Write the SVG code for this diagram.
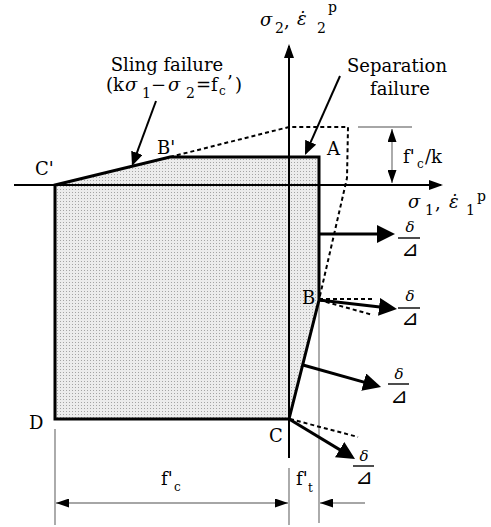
<svg xmlns="http://www.w3.org/2000/svg" width="491" height="527" viewBox="0 0 491 527">
<style>
.t{font-family:"DejaVu Serif","Liberation Serif","Noto Sans CJK KR",serif;font-size:18px;fill:#000}
.s{font-size:14px}
.ss{font-size:12px}
.g{font-style:italic}
.fr{font-family:"DejaVu Serif","DejaVu Sans","Noto Sans CJK KR",serif;font-size:15px;text-anchor:middle}
.tri{font-family:"DejaVu Sans","Noto Sans CJK KR",sans-serif;font-size:21px;text-anchor:middle}
.ol{fill:none;stroke:#000;stroke-width:3;stroke-linejoin:miter}
.ax{stroke:#000;stroke-width:2;fill:none}
.dash{stroke:#000;stroke-width:2;fill:none;stroke-dasharray:4 3}
.thin{stroke:#888;stroke-width:1.4;fill:none}
.big{stroke:#000;stroke-width:3;fill:none}
.ld{stroke:#000;stroke-width:2;fill:none}
.fl{stroke:#000;stroke-width:1.4}
</style>
<defs>
<pattern id="dots" width="3" height="3" patternUnits="userSpaceOnUse">
<rect width="3" height="3" fill="#ececec"/>
<rect width="1" height="1" fill="#a4a4a4"/>
</pattern>
<marker id="mbig" markerUnits="userSpaceOnUse" viewBox="0 0 18 18" refX="14" refY="9" markerWidth="18" markerHeight="18" orient="auto"><path d="M0,0 L18,9 L0,18 z" fill="#000"/></marker>
<marker id="max" markerUnits="userSpaceOnUse" viewBox="0 0 14 10" refX="12" refY="5" markerWidth="14" markerHeight="10" orient="auto"><path d="M0,0 L14,5 L0,10 z" fill="#000"/></marker>
<marker id="mld" markerUnits="userSpaceOnUse" viewBox="0 0 14 12" refX="12" refY="6" markerWidth="14" markerHeight="12" orient="auto"><path d="M0,0 L14,6 L0,12 z" fill="#000"/></marker>
<marker id="mdim" markerUnits="userSpaceOnUse" viewBox="0 0 13 9" refX="13" refY="4.5" markerWidth="13" markerHeight="9" orient="auto-start-reverse"><path d="M0,0 L13,4.5 L0,9 z" fill="#000"/></marker>
</defs>

<g id="region">
<polygon points="55,185 170,157 319,157 319,300 289,419 55,419" fill="url(#dots)"/>
</g>

<g id="connectors">
<polyline class="dash" points="170,157 289,127 348,127 347,178 319,300"/>
<line class="thin" x1="319" y1="300" x2="319" y2="523"/>
<line class="thin" x1="289" y1="468" x2="289" y2="525"/>
<line class="thin" x1="55" y1="429" x2="55" y2="525"/>
<line class="thin" x1="358" y1="127" x2="412" y2="127"/>
<line class="thin" x1="392" y1="129" x2="392" y2="183" marker-start="url(#mdim)" marker-end="url(#mdim)"/>
<line class="thin" x1="56" y1="503" x2="288" y2="503" marker-start="url(#mdim)" marker-end="url(#mdim)"/>
<line class="thin" x1="365" y1="503" x2="320" y2="503" marker-end="url(#mdim)"/>
<line class="ax" x1="14" y1="185" x2="441" y2="185" marker-end="url(#max)"/>
<line class="ax" x1="289" y1="458" x2="289" y2="46" marker-end="url(#max)"/>
<polygon class="ol" points="55,185 170,157 319,157 319,300 289,419 55,419"/>
<line class="big" x1="319" y1="234" x2="391" y2="234" marker-end="url(#mbig)"/>
<line class="big" x1="319" y1="300" x2="393" y2="308.5" marker-end="url(#mbig)"/>
<line class="dash" x1="319" y1="299" x2="375" y2="299"/>
<line class="dash" x1="319" y1="300" x2="373" y2="315"/>
<line class="big" x1="303" y1="365" x2="377.2" y2="385.9" marker-end="url(#mbig)"/>
<line class="big" x1="289" y1="419" x2="351.6" y2="456.9" marker-end="url(#mbig)"/>
<line class="dash" x1="290" y1="419" x2="358" y2="437"/>
<line class="ld" x1="156" y1="101" x2="132.7" y2="164.1" marker-end="url(#mld)"/>
<line class="ld" x1="340" y1="76" x2="305.8" y2="153.2" marker-end="url(#mld)"/>
</g>

<g id="labels">
<text class="t" x="35" y="175">C'</text>
<text class="t" x="157" y="154">B'</text>
<text class="t" x="327" y="155">A</text>
<text class="t" x="302" y="304">B</text>
<text class="t" x="269" y="442">C</text>
<text class="t" x="29" y="429">D</text>
</g>

<g id="axis-y-label">
<text class="t"><tspan class="g" x="260" y="26">σ</tspan><tspan class="s" x="275" y="33">2</tspan><tspan x="284" y="27">,</tspan><tspan class="g" x="297" y="25">ε̇</tspan><tspan class="s" x="317" y="33">2</tspan><tspan class="s" x="328" y="12">p</tspan></text>
</g>
<g id="axis-x-label">
<text class="t"><tspan class="g" x="408" y="208">σ</tspan><tspan class="s" x="425" y="215">1</tspan><tspan x="435" y="209">,</tspan><tspan class="g" x="449" y="208">ε̇</tspan><tspan class="s" x="466" y="215">1</tspan><tspan class="s" x="477" y="201">p</tspan></text>
</g>

<g id="sling">
<text class="t" x="167" y="71" text-anchor="middle">Sling failure</text>
<text class="t"><tspan x="106" y="91">(k</tspan><tspan class="g" x="125" y="91">σ</tspan><tspan class="s" x="142" y="98">1</tspan><tspan x="151" y="91">−</tspan><tspan class="g" x="168" y="91">σ</tspan><tspan class="s" x="186" y="98">2</tspan><tspan x="196" y="91">=f</tspan><tspan class="ss" x="219" y="95">c</tspan><tspan x="227" y="89">’</tspan><tspan x="235" y="91">)</tspan></text>
</g>

<g id="separation">
<text class="t" x="397" y="72" text-anchor="middle">Separation</text>
<text class="t" x="400" y="95" text-anchor="middle">failure</text>
</g>

<g id="dims">
<text class="t"><tspan x="403" y="163">f'</tspan><tspan class="ss" x="417" y="168">c</tspan><tspan x="425" y="163">/k</tspan></text>
<text class="t"><tspan x="161" y="485">f'</tspan><tspan class="ss" x="174" y="491">c</tspan></text>
<text class="t"><tspan x="296" y="485">f'</tspan><tspan class="ss" x="308" y="492">t</tspan></text>
</g>

<g id="fractions">
<text class="fr g" x="410" y="232">δ</text><line class="fl" x1="398" y1="238" x2="420" y2="238"/><text class="tri" x="410" y="256">⊿</text>
<text class="fr g" x="410" y="301">δ</text><line class="fl" x1="398" y1="308" x2="420" y2="308"/><text class="tri" x="410" y="325">⊿</text>
<text class="fr g" x="399" y="379">δ</text><line class="fl" x1="388" y1="384" x2="409" y2="384"/><text class="tri" x="399" y="403">⊿</text>
<text class="fr g" x="364" y="461">δ</text><line class="fl" x1="353" y1="466" x2="374" y2="466"/><text class="tri" x="364" y="484">⊿</text>
</g>
</svg>
